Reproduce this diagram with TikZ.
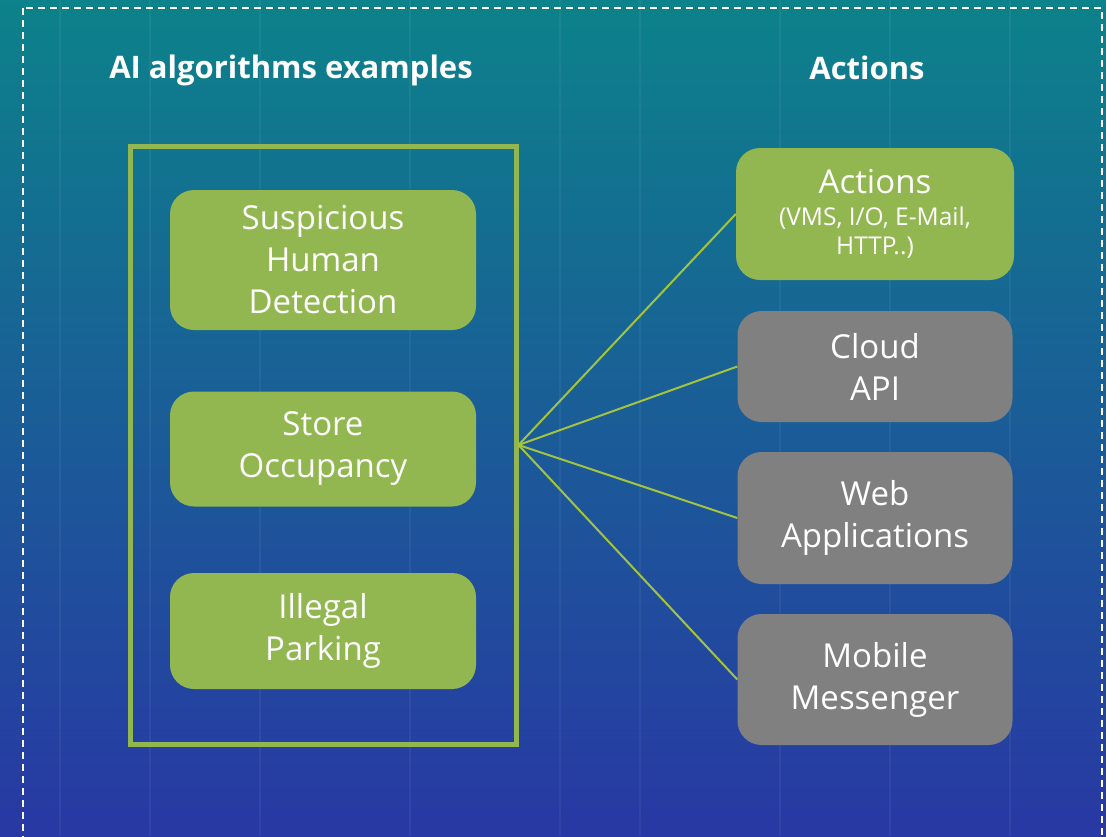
\documentclass[tikz,border=0pt]{standalone}
\usepackage{fontspec}
\setmainfont{Open Sans}
\usetikzlibrary{positioning}

\definecolor{bgtop}{RGB}{12,130,138}
\definecolor{bgmid}{RGB}{20,108,170}
\definecolor{bgbot}{RGB}{40,56,164}
\definecolor{algogreen}{RGB}{146,183,80}
\definecolor{linkgreen}{RGB}{164,196,62}
\definecolor{boxgray}{RGB}{128,128,128}

\begin{document}
\begin{tikzpicture}[x=1pt, y=-1pt,
    title/.style={text=white, font=\bfseries\fontsize{31}{36}\selectfont},
    algobox/.style={fill=algogreen, rounded corners=24pt, text=white, align=center,
        minimum width=306pt, inner sep=0pt, font=\fontsize{33}{42}\selectfont},
    actbox/.style={fill=boxgray, rounded corners=24pt, text=white, align=center,
        minimum width=275pt, inner sep=0pt, font=\fontsize{33}{42}\selectfont},
    frame/.style={draw=algogreen, line width=5pt, minimum width=386pt, minimum height=598pt},
    link/.style={draw=linkgreen, line width=2pt}]
    \useasboundingbox (0,0) rectangle (1106,836);
    \clip (0,0) rectangle (1106,836);
    % background
    \shade[top color=bgtop, middle color=bgmid, bottom color=bgbot] (0,0) rectangle (1106,836);
    \foreach \x in {60,150,260,410,560,640,780,890,1010}
        \draw[white, opacity=0.05, line width=2pt] (\x,0) -- (\x,836);
    \draw[white, line width=1.5pt, dash pattern=on 7pt off 5pt] (23,8) rectangle (1102,860);

    % column titles
    \node[title] (algotitle) at (291,70) {AI algorithms examples};
    \node[title] (acttitle) at (867,68) {Actions};

    % algorithms
    \node[frame] (algo) at (323,445) {};
    \node[algobox, minimum height=140pt] (human) at (323,260) {Suspicious\\Human\\Detection};
    \node[algobox, minimum height=115pt] (store) at (323,449) {Store\\Occupancy};
    \node[algobox, minimum height=116pt] (parking) at (323,631) {Illegal\\Parking};

    % actions
    \node[actbox, fill=algogreen, minimum width=278pt, minimum height=132pt,
        font=\fontsize{24.5}{29}\selectfont] (act) at (875,214)
        {{\fontsize{33}{36}\selectfont Actions}\\[3pt](VMS, I/O, E-Mail,\\HTTP..)};
    \node[actbox, minimum height=111pt] (cloud) at (875,366.5) {Cloud\\API};
    \node[actbox, minimum height=132pt] (web) at (875,518) {Web\\Applications};
    \node[actbox, minimum height=131pt] (mobile) at (875,679.5) {Mobile\\Messenger};

    \foreach \t in {act, cloud, web, mobile}
        \draw[link] (algo.east) -- (\t.west);
\end{tikzpicture}
\end{document}
